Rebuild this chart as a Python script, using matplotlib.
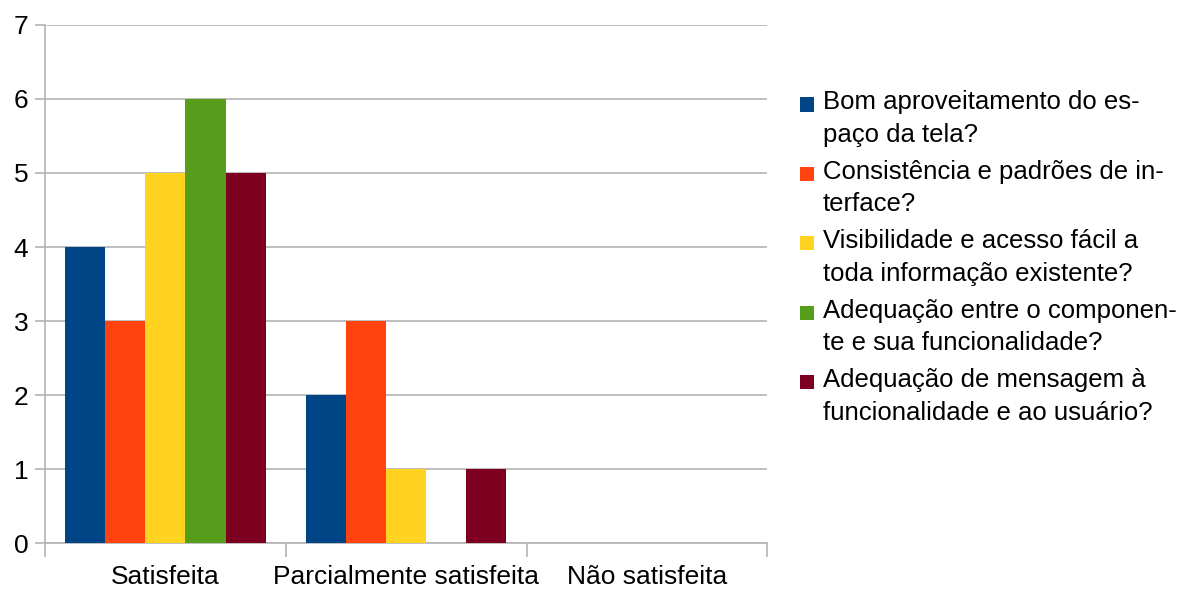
import numpy as np
import matplotlib.pyplot as plt
from matplotlib.patches import Rectangle
from matplotlib.container import BarContainer
from matplotlib.legend_handler import HandlerPatch, update_from_first_child

plt.rcParams['font.family'] = ['Liberation Sans', 'DejaVu Sans']

categories = ['Satisfeita', 'Parcialmente satisfeita', 'Não satisfeita']
series_labels = [
    'Bom aproveitamento do es-\npaço da tela?',
    'Consistência e padrões de in-\nterface?',
    'Visibilidade e acesso fácil a\ntoda informação existente?',
    'Adequação entre o componen-\nte e sua funcionalidade?',
    'Adequação de mensagem à\nfuncionalidade e ao usuário?',
]
values = [
    [4, 2, 0],
    [3, 3, 0],
    [5, 1, 0],
    [6, 0, 0],
    [5, 1, 0],
]
colors = ['#004586', '#ff420e', '#ffd320', '#579d1c', '#7e0021']

FS = 19
LEG_FS = 18.5


def top_square(legend, orig_handle, xdescent, ydescent, width, height, fontsize):
    # small square aligned with the first text line
    s = width
    return Rectangle((-xdescent, -ydescent + height - s + 2), s, s)


fig = plt.figure(figsize=(11.82, 5.89), dpi=100)
ax = fig.add_axes([0.0381, 0.078, 0.611, 0.8796])

x = np.arange(len(categories))
w = 1 / 6
for i, (vals, col, lab) in enumerate(zip(values, colors, series_labels)):
    ax.bar(x + (i - 2) * w, vals, width=w, color=col, label=lab, zorder=3)

ax.set_xlim(-0.5, 2.5)
ax.set_ylim(0, 7)
ax.set_yticks(range(8))
ax.yaxis.grid(True, color='#b3b3b3', linewidth=1.2, zorder=0)

# category labels centred, tick marks at group boundaries
ax.set_xticks(x)
ax.set_xticklabels(categories, fontsize=FS)
ax.tick_params(axis='x', length=0, pad=16)
ax.set_xticks([-0.5, 0.5, 1.5, 2.5], minor=True)
ax.tick_params(axis='x', which='minor', length=10, width=1.2, color='#b3b3b3')
ax.tick_params(axis='y', labelsize=FS, length=7, width=1.2, color='#b3b3b3', pad=5)

for side in ['top', 'right']:
    ax.spines[side].set_visible(False)
for side in ['left', 'bottom']:
    ax.spines[side].set_color('#b3b3b3')
    ax.spines[side].set_linewidth(1.2)

sq_handler = HandlerPatch(patch_func=top_square, update_func=update_from_first_child)
leg = fig.legend(loc='upper left', bbox_to_anchor=(0.668, 0.864), frameon=False,
                 fontsize=LEG_FS, handlelength=0.55, handleheight=2.0,
                 handletextpad=0.35, labelspacing=0.5, borderaxespad=0,
                 handler_map={BarContainer: sq_handler})
for t in leg.get_texts():
    t.set_linespacing(1.45)

fig.savefig('out.png', dpi=100)
